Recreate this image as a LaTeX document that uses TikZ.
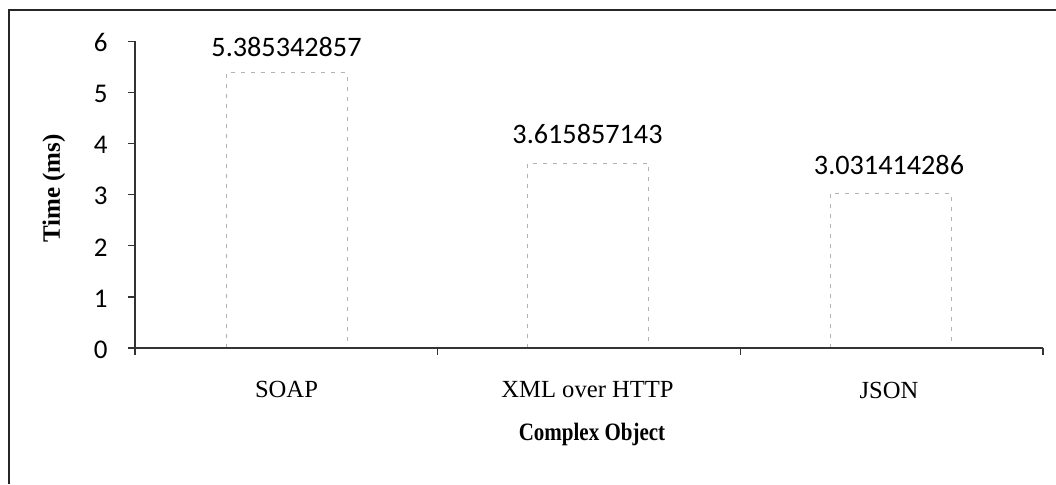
\documentclass[tikz,border=0pt]{standalone}
\usepackage{fontspec}
\setmainfont{Liberation Serif}
\newfontfamily\numfont{Carlito}
\begin{document}
\begin{tikzpicture}[x=0.5pt,y=-0.5pt,
  frameline/.style={draw=black!85,line width=1pt},
  axisline/.style={draw=black!80,line width=0.8pt},
  tickline/.style={draw=black!80,line width=0.6pt},
  barbox/.style={draw=black!30,dash pattern=on 2pt off 3pt,line width=0.4pt,fill=white},
  ticklabel/.style={font=\numfont\fontsize{13.5}{15}\selectfont,anchor=east,inner sep=0pt},
  datalabel/.style={font=\numfont\fontsize{14.1}{16}\selectfont,inner sep=0pt},
  catlabel/.style={font=\fontsize{12.3}{14}\selectfont,inner sep=0pt},
  axistitle/.style={font=\bfseries\fontsize{12.5}{14}\selectfont,inner sep=0pt}
]
\useasboundingbox (0,0) rectangle (1056,484);
% frame (partly cut off)
\draw[frameline] (9,484) -- (9,10) -- (1056,10);

% bars
\draw[barbox] (226,348) rectangle (347,72.8);
\draw[barbox] (527.5,348) rectangle (648.5,163.2);
\draw[barbox] (830,348) rectangle (951,193.1);

% axes
\coordinate (O) at (135,348);
\coordinate (Ytop) at (135,41.4);
\coordinate (Xend) at (1043,348);
\draw[axisline] (Ytop) -- (O) -- (Xend);

% y ticks and labels
\foreach \v/\yy in {0/348,1/296.9,2/245.8,3/194.7,4/143.6,5/92.5,6/41.4}{
  \draw[tickline] (128,\yy) -- (135,\yy);
  \node[ticklabel] (t\v) at (108,\yy+1.5) {\v};
}
% x ticks
\foreach \xx in {135,437.7,740.3,1043}{
  \draw[tickline] (\xx,348) -- (\xx,355);
}

% data labels
\node[datalabel] (d1) at (286.5,47) {5.385342857};
\node[datalabel] (d2) at (587.5,134) {3.615857143};
\node[datalabel] (d3) at (889,165) {3.031414286};

% category labels
\node[catlabel] (c1) at (286.5,389) {SOAP};
\node[catlabel] (c2) at (587.5,390) {XML over HTTP};
\node[catlabel] (c3) at (889,390) {JSON};

% axis titles
\node[axistitle,anchor=base] (xt) at (592,440) {\scalebox{0.84}[1]{Complex Object}};
\node[axistitle,rotate=90,anchor=base] (yt) at (60,188.5) {Time (ms)};
\end{tikzpicture}
\end{document}
